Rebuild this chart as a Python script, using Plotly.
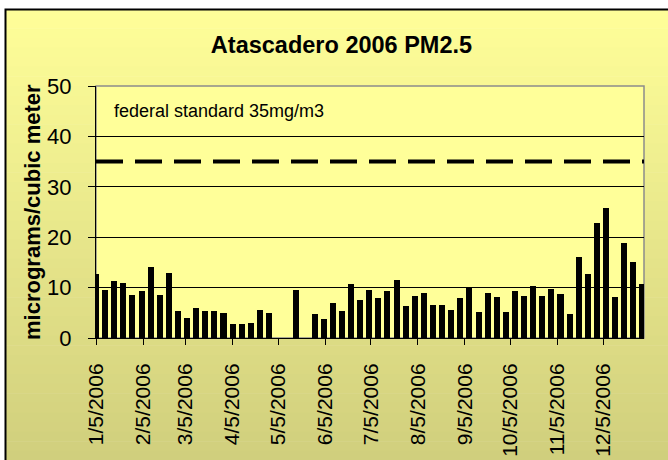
import plotly.graph_objects as go

# ---- data ----
sample_dates = [
    "2006-01-05", "2006-01-11", "2006-01-17", "2006-01-23", "2006-01-29",
    "2006-02-04", "2006-02-10", "2006-02-16", "2006-02-22", "2006-02-28",
    "2006-03-06", "2006-03-12", "2006-03-18", "2006-03-24", "2006-03-30",
    "2006-04-05", "2006-04-11", "2006-04-17", "2006-04-23", "2006-04-29",
    "2006-05-05", "2006-05-11", "2006-05-17", "2006-05-23", "2006-05-29",
    "2006-06-04", "2006-06-10", "2006-06-16", "2006-06-22", "2006-06-28",
    "2006-07-04", "2006-07-10", "2006-07-16", "2006-07-22", "2006-07-28",
    "2006-08-03", "2006-08-09", "2006-08-15", "2006-08-21", "2006-08-27",
    "2006-09-02", "2006-09-08", "2006-09-14", "2006-09-20", "2006-09-26",
    "2006-10-02", "2006-10-08", "2006-10-14", "2006-10-20", "2006-10-26",
    "2006-11-01", "2006-11-07", "2006-11-13", "2006-11-19", "2006-11-25",
    "2006-12-01", "2006-12-07", "2006-12-13", "2006-12-19", "2006-12-25",
    "2006-12-31",
]
pm25 = [
    12.7, 9.6, 11.4, 11.0, 8.6,
    9.4, 14.0, 8.6, 12.8, 5.3,
    4.0, 6.0, 5.3, 5.3, 5.0,
    2.7, 2.7, 3.0, 5.6, 5.0,
    None, None, 9.6, None, 4.7,
    3.7, 7.0, 5.3, 10.7, 7.6,
    9.6, 8.0, 9.3, 11.6, 6.3,
    8.3, 9.0, 6.6, 6.6, 5.6,
    8.0, 10.0, 5.1, 9.0, 8.1,
    5.1, 9.4, 8.4, 10.4, 8.4,
    9.8, 8.7, 4.7, 16.0, 12.7,
    22.8, 25.7, 8.1, 18.8, 15.1,
    10.7,
]
tick_dates = [
    "2006-01-05", "2006-02-05", "2006-03-05", "2006-04-05", "2006-05-05",
    "2006-06-05", "2006-07-05", "2006-08-05", "2006-09-05", "2006-10-05",
    "2006-11-05", "2006-12-05",
]
tick_labels = [
    "1/5/2006", "2/5/2006", "3/5/2006", "4/5/2006", "5/5/2006", "6/5/2006",
    "7/5/2006", "8/5/2006", "9/5/2006", "10/5/2006", "11/5/2006", "12/5/2006",
]
federal_standard = 35
standard_label = "federal standard 35mg/m3"
title_text = "Atascadero 2006 PM2.5"
y_title = "micrograms/cubic meter"

# ---- layout geometry ----
W, H = 668, 460
L, R, T, B = 96, 24, 86, 122
PW, PH = W - L - R, H - T - B
FONT = "Arial, Liberation Sans, sans-serif"


def px_x(px):
    return (px - L) / PW


def px_y(py):
    return (H - B - py) / PH


fig = go.Figure()
fig.add_trace(go.Bar(
    x=sample_dates, y=pm25,
    marker=dict(color="black", line=dict(width=0)),
    width=4 * 86400000,
    showlegend=False,
))

shapes = []
# background gradient (outer chart area)
top_c = (255, 255, 153)
bot_c = (207, 205, 124)
y_start, y_end = 9, 470
n = 48
for i in range(n):
    a = y_start + (y_end - y_start) * i / n
    b = y_start + (y_end - y_start) * (i + 1) / n
    f = (i + 0.5) / n
    c = tuple(round(top_c[j] + (bot_c[j] - top_c[j]) * f) for j in range(3))
    shapes.append(dict(
        type="rect", xref="paper", yref="paper", layer="below",
        x0=px_x(5), x1=px_x(690), y0=px_y(b + 0.6), y1=px_y(a),
        fillcolor="rgb(%d,%d,%d)" % c, line=dict(width=0),
    ))
# outer frame
shapes.append(dict(
    type="rect", xref="paper", yref="paper", layer="below",
    x0=px_x(5.5), x1=px_x(700), y0=px_y(480), y1=px_y(9.5),
    fillcolor="rgba(0,0,0,0)", line=dict(color="black", width=2),
))
# plot area
shapes.append(dict(
    type="rect", xref="paper", yref="paper", layer="below",
    x0=0, x1=1, y0=0, y1=1,
    fillcolor="#FFFF99", line=dict(color="#8c8c8c", width=1.5),
))
# federal standard dashed line
shapes.append(dict(
    type="line", xref="paper", yref="y", layer="above",
    x0=0, x1=1, y0=federal_standard, y1=federal_standard,
    line=dict(color="black", width=4, dash="27px,12px"),
))

annotations = [
    dict(text=standard_label, xref="paper", yref="y",
         x=px_x(219), y=45.0, xanchor="center", yanchor="middle",
         showarrow=False, font=dict(family=FONT, size=18, color="black")),
    dict(text="<b>" + y_title + "</b>", xref="paper", yref="paper",
         x=px_x(32), y=px_y(212), xanchor="center", yanchor="middle",
         textangle=-90, showarrow=False,
         font=dict(family=FONT, size=22, color="black")),
]

fig.update_layout(
    width=W, height=H,
    margin=dict(l=L, r=R, t=T, b=B, pad=0),
    paper_bgcolor="white",
    plot_bgcolor="rgba(0,0,0,0)",
    title=dict(text="<b>" + title_text + "</b>", xref="container", yref="container",
               x=341.5 / W, y=1 - 45 / H, xanchor="center", yanchor="middle",
               font=dict(family=FONT, size=23.5, color="black")),
    shapes=shapes,
    annotations=annotations,
    bargap=0,
    xaxis=dict(
        type="date",
        range=["2006-01-05", "2007-01-01"],
        tickmode="array", tickvals=tick_dates, ticktext=tick_labels,
        tickangle=-90,
        ticks="outside", ticklen=6, tickcolor="black", tickwidth=1,
        showgrid=False, zeroline=False,
        showline=True, linecolor="black", linewidth=1,
        tickfont=dict(family=FONT, size=21, color="black"),
        ticklabelstandoff=10,
        automargin=False,
    ),
    yaxis=dict(
        range=[0, 50], dtick=10, tick0=0,
        ticks="outside", ticklen=7, tickcolor="black", tickwidth=1,
        showgrid=True, gridcolor="black", gridwidth=1,
        zeroline=False,
        showline=True, linecolor="black", linewidth=1,
        tickfont=dict(family=FONT, size=22, color="black"),
        ticklabelstandoff=12,
        automargin=False,
    ),
)

fig.write_html("out.html", config={"displayModeBar": False},
               post_script="document.body.style.margin='0';")
